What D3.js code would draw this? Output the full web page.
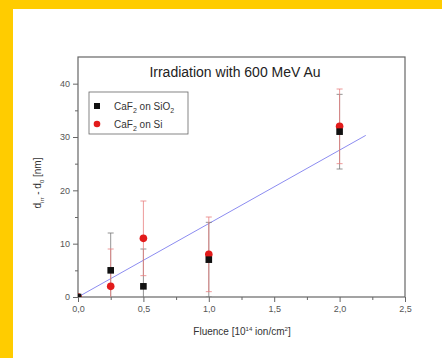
<!DOCTYPE html>
<html>
<head>
<meta charset="utf-8">
<script src="https://cdn.jsdelivr.net/npm/d3@7"></script>
<style>
  body { margin: 0; background: #ffcc00; }
  svg { display: block; font-family: "Liberation Sans", Arial, sans-serif; }
</style>
</head>
<body>
<div id="chart"></div>
<script>
// data
var fluence = [0, 0.25, 0.5, 1.0, 2.0];
var sio2 = [0, 5, 2, 7, 31];        // CaF2 on SiO2
var si = [0, 2, 11, 8, 32];         // CaF2 on Si
var errSio2 = [0, 7, 7, 7, 7];
var errSi = [0, 7, 7, 7, 7];
var fitX = [0, 2.2];
var fitY = [0, 30.3];
var xTicks = [0, 0.5, 1.0, 1.5, 2.0, 2.5];
var yTicks = [0, 10, 20, 30, 40];

var W = 442, H = 358;
var margin = {top: 57, right: 37, bottom: 61, left: 78},
    width = W - margin.left - margin.right,
    height = H - margin.top - margin.bottom;

var root = d3.select("#chart").append("svg")
    .attr("width", W).attr("height", H);

// white panel on the yellow page
root.append("rect").attr("x", 13).attr("y", 9)
    .attr("width", W - 13).attr("height", H - 9).attr("fill", "#fff");

var svg = root.append("g")
    .attr("transform", "translate(" + margin.left + "," + margin.top + ")");

var x = d3.scaleLinear().domain([0, 2.5]).range([0, width]);
var y = d3.scaleLinear().domain([0, 45]).range([height, 0]);

var axisCol = "#666";

// minor ticks
svg.append("g")
    .attr("transform", "translate(0," + height + ")")
    .call(d3.axisBottom(x).tickValues(d3.range(0.25, 2.5, 0.5)).tickSize(3).tickFormat(""))
    .call(g => g.select(".domain").remove())
    .selectAll("line").attr("stroke", axisCol);
svg.append("g")
    .call(d3.axisLeft(y).tickValues([5, 15, 25, 35]).tickSize(3).tickFormat(""))
    .call(g => g.select(".domain").remove())
    .selectAll("line").attr("stroke", axisCol);

// major axes
var fmt = d3.format(".1f");
var xAxis = svg.append("g")
    .attr("transform", "translate(0," + height + ")")
    .call(d3.axisBottom(x).tickValues(xTicks).tickSize(5).tickPadding(4)
      .tickFormat(d => fmt(d).replace(".", ",")));
var yAxis = svg.append("g")
    .call(d3.axisLeft(y).tickValues(yTicks).tickSize(5).tickPadding(3));
[xAxis, yAxis].forEach(function(a) {
  a.select(".domain").remove();
  a.selectAll("line").attr("stroke", axisCol);
  a.selectAll("text").attr("fill", "#555").style("font-size", "9px");
});

// frame
svg.append("rect").attr("width", width).attr("height", height)
    .attr("fill", "none").attr("stroke", axisCol).attr("stroke-width", 1.2);

var clip = svg.append("clipPath").attr("id", "clip")
  .append("rect").attr("width", width).attr("height", height);
var plot = svg.append("g").attr("clip-path", "url(#clip)");

// linear fit
plot.append("line")
    .attr("x1", x(fitX[0])).attr("y1", y(fitY[0]))
    .attr("x2", x(fitX[1])).attr("y2", y(fitY[1]))
    .attr("stroke", "#8c8cf0").attr("stroke-width", 1);

function errorBars(vals, errs, col) {
  fluence.forEach(function(f, i) {
    if (!errs[i]) return;
    var cx = x(f), top = y(vals[i] + errs[i]), bot = y(vals[i] - errs[i]);
    plot.append("line").attr("x1", cx).attr("x2", cx)
        .attr("y1", top).attr("y2", bot).attr("stroke", col).attr("stroke-width", 0.8);
    [top, bot].forEach(function(yy) {
      plot.append("line").attr("x1", cx - 3).attr("x2", cx + 3)
          .attr("y1", yy).attr("y2", yy).attr("stroke", col).attr("stroke-width", 0.8);
    });
  });
}
errorBars(sio2, errSio2, "#777");
errorBars(si, errSi, "#e88080");

// markers
plot.selectAll("circle.si").data(fluence).enter().append("circle")
    .attr("cx", d => x(d)).attr("cy", (d, i) => y(si[i]))
    .attr("r", 3.8).attr("fill", "#e21b1b");
plot.selectAll("rect.sio2").data(fluence).enter().append("rect")
    .attr("x", d => x(d) - 3.3).attr("y", (d, i) => y(sio2[i]) - 3.3)
    .attr("width", 6.6).attr("height", 6.6).attr("fill", "#111");

// title
svg.append("text").attr("x", 157).attr("y", 20)
    .attr("text-anchor", "middle").style("font-size", "14px").attr("fill", "#222")
    .text("Irradiation with 600 MeV Au");

// legend
var leg = svg.append("g").attr("transform", "translate(11,35)");
leg.append("rect").attr("width", 99).attr("height", 42)
    .attr("fill", "#fff").attr("stroke", "#666").attr("stroke-width", 0.8);
leg.append("rect").attr("x", 5).attr("y", 11).attr("width", 6).attr("height", 6).attr("fill", "#111");
leg.append("circle").attr("cx", 8).attr("cy", 32).attr("r", 3.3).attr("fill", "#e21b1b");
function legText(yy, sub2) {
  var t = leg.append("text").attr("x", 25).attr("y", yy).style("font-size", "10px").attr("fill", "#333");
  t.append("tspan").text("CaF");
  t.append("tspan").attr("dy", 3).style("font-size", "7px").text("2");
  t.append("tspan").attr("dy", -3).text(sub2 ? " on SiO" : " on Si");
  if (sub2) t.append("tspan").attr("dy", 3).style("font-size", "7px").text("2");
}
legText(18, true);
legText(36, false);

// x label
var xl = svg.append("text").attr("x", 164).attr("y", height + 38)
    .attr("text-anchor", "middle").style("font-size", "10px").attr("fill", "#333");
xl.append("tspan").text("Fluence [10");
xl.append("tspan").attr("dy", -4).style("font-size", "6px").text("14");
xl.append("tspan").attr("dy", 4).text(" ion/cm");
xl.append("tspan").attr("dy", -4).style("font-size", "6px").text("2");
xl.append("tspan").attr("dy", 4).text("]");

// y label
var yl = svg.append("text")
    .attr("transform", "translate(-37," + (height / 2 + 6) + ") rotate(-90)")
    .attr("text-anchor", "middle").style("font-size", "10px").attr("fill", "#333");
yl.append("tspan").text("d");
yl.append("tspan").attr("dy", 3).style("font-size", "6px").text("irr");
yl.append("tspan").attr("dy", -3).text(" - d");
yl.append("tspan").attr("dy", 3).style("font-size", "6px").text("0");
yl.append("tspan").attr("dy", -3).text(" [nm]");
</script>
</body>
</html>
